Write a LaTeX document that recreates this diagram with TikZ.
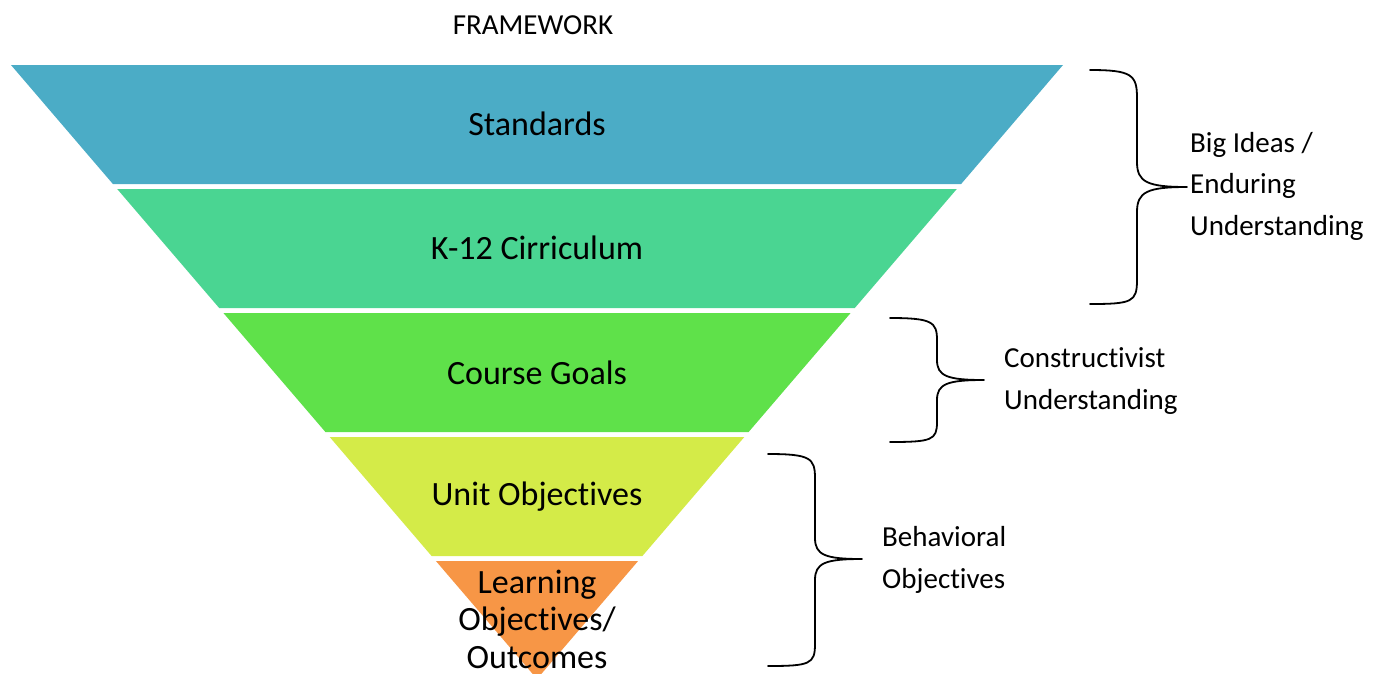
\documentclass[tikz,border=0pt]{standalone}
\usepackage{fontspec}
\setmainfont{Carlito}[RawFeature={-liga;-clig;-calt;-dlig}]
\definecolor{stdblue}{HTML}{4BACC6}
\definecolor{curgreen}{HTML}{4AD592}
\definecolor{goalgreen}{HTML}{5FE14A}
\definecolor{unitlime}{HTML}{D4EB48}
\definecolor{learnorange}{HTML}{F79646}
\tikzset{
 bandtext/.style={font=\fontsize{34}{37.5}\selectfont,align=center,inner sep=0pt},
 sidetext/.style={font=\fontsize{29}{41.5}\selectfont,align=left,anchor=west,inner sep=0pt},
 bracket/.style={line width=1.8pt,line cap=round,line join=round}
}
\begin{document}
\begin{tikzpicture}[x=1pt,y=-1pt]
 \useasboundingbox (0,0) rectangle (1383,673);
 % the funnel
 \fill[stdblue](11,65)--(1063,65)--(961.1,184)--(112.9,184)--cycle;
 \fill[curgreen](117.2,189)--(956.8,189)--(854.8,308)--(219.2,308)--cycle;
 \fill[goalgreen](223.4,313)--(850.6,313)--(748.6,432)--(325.4,432)--cycle;
 \fill[unitlime](329.7,437)--(744.3,437)--(642.4,556)--(431.6,556)--cycle;
 \fill[learnorange](435.9,561)--(638.1,561)--(537,679)--cycle;
 \node[font=\fontsize{29}{35}\selectfont] (title) at (533,25) {FRAMEWORK};
 \node[bandtext] (standards) at (537,124) {Standards};
 \node[bandtext] (curriculum) at (537,248) {K-12 Cirriculum};
 \node[bandtext] (goals) at (537,372.5) {Course Goals};
 \node[bandtext] (unit) at (537,496.5) {Unit Objectives};
 \node[bandtext] (learning) at (537,619) {Learning\\Objectives/\\Outcomes};
 % braces
 \draw[bracket](1090,70) .. controls (1132,70) and (1137,75) .. (1137,98) -- (1137,162)
  .. controls (1137,182) and (1147,187) .. (1187,187)
  .. controls (1147,187) and (1137,192) .. (1137,212) -- (1137,280)
  .. controls (1137,302) and (1132,304) .. (1090,304);
 \draw[bracket](890,318) .. controls (932,318) and (937,322) .. (937,340) -- (937,360)
  .. controls (937,376) and (947,380) .. (984,380)
  .. controls (947,380) and (937,384) .. (937,400) -- (937,422)
  .. controls (937,440) and (932,442) .. (890,442);
 \draw[bracket](768,454) .. controls (810,454) and (815,458) .. (815,478) -- (815,538)
  .. controls (815,555) and (825,559) .. (862,559)
  .. controls (825,559) and (815,563) .. (815,580) -- (815,644)
  .. controls (815,664) and (810,666) .. (768,666);
 \node[sidetext] (bigideas) at (1190,186) {Big Ideas /\\Enduring\\Understanding};
 \node[sidetext] (construct) at (1004,381) {Constructivist\\Understanding};
 \node[sidetext] (behavior) at (882,560) {Behavioral\\Objectives};
\end{tikzpicture}
\end{document}
